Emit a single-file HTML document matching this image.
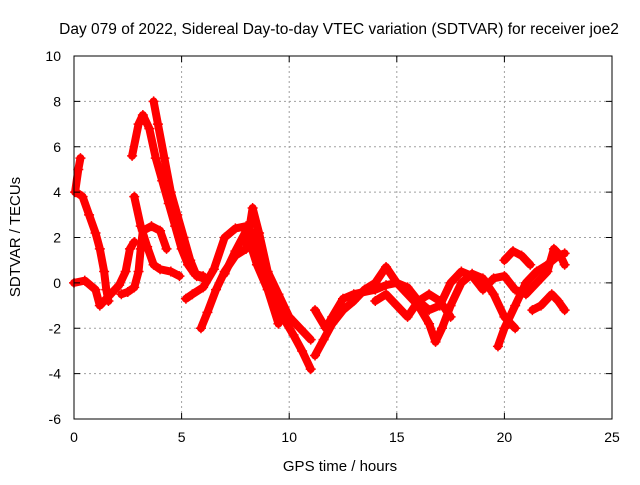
<!DOCTYPE html>
<html><head><meta charset="utf-8"><style>
body{margin:0;background:#fff}
svg text{font-family:"Liberation Sans",sans-serif;font-size:14px;fill:#000}
</style></head><body>
<svg id="c" width="640" height="480">
<rect width="640" height="480" fill="#fff"/>
<g id="grid"></g><g id="marks"></g><g id="axes"></g>
<text x="339" y="34" text-anchor="middle" style="font-size:15.5px">Day 079 of 2022, Sidereal Day-to-day VTEC variation (SDTVAR) for receiver joe2</text>
<text x="340" y="471" text-anchor="middle" style="font-size:15px">GPS time / hours</text>
<text transform="translate(20,237) rotate(-90)" text-anchor="middle" style="font-size:15px">SDTVAR / TECUs</text>
</svg>
<script>
const xTicks=[0,5,10,15,20,25];
const yTicks=[-6,-4,-2,0,2,4,6,8,10];
const track1=[[0.05,4],[0.2,5],[0.3,5.5]];
const track2=[[0.1,4],[0.4,3.8],[0.7,3],[1,2.2],[1.2,1.5],[1.4,0.5],[1.5,-0.3],[1.6,-0.8]];
const track3=[[0,0],[0.5,0.1],[1.0,-0.3],[1.2,-1.0],[1.6,-0.6],[2.1,-0.1],[2.4,0.5],[2.6,1.5],[2.8,1.8]];
const track4=[[2.2,-0.5],[2.5,-0.4],[2.8,-0.2],[3.0,0.5],[3.1,1.5],[3.2,2.3],[3.6,2.5],[4,2.3],[4.3,1.5]];
const track5=[[2.7,5.6],[3.0,7.0],[3.2,7.4],[3.5,6.8],[3.8,5.5],[4.1,4.5],[4.4,3.5],[4.7,2.5],[5,1.5],[5.3,0.8],[5.6,0.4],[6,0.3]];
const track6=[[3.7,8],[3.9,7],[4.2,5.5],[4.5,4.0],[4.8,3.0],[5.1,2],[5.4,1],[5.7,0.3],[6,0.2]];
const track7=[[2.8,3.8],[3.1,2.5],[3.4,1.6],[3.7,0.8],[4.0,0.6],[4.5,0.5],[4.9,0.3]];
const track8=[[5.2,-0.7],[5.5,-0.5],[6,-0.2],[6.5,0.6],[7,2],[7.5,2.4],[8,2.5],[8.3,2.2],[8.8,1],[9.2,-0.3],[9.7,-1.5],[10.2,-2.3],[10.6,-3],[11,-3.8]];
const track9=[[5.9,-2],[6.2,-1.3],[6.6,-0.3],[7,0.5],[7.5,1.2],[8,1.5],[8.3,3.3],[8.6,2.2],[9,0.5],[9.5,-0.5],[10,-1.5],[10.5,-2],[11,-2.5]];
const track10=[[7.0,0.4],[7.5,1.4],[8,2.3],[8.5,0.8],[9,-0.3],[9.5,-1.8]];
const track11=[[11.2,-3.2],[11.6,-2.5],[12,-1.8],[12.5,-1.2],[13,-0.8],[13.5,-0.3],[14,0],[14.5,0.7],[15,0],[15.5,-0.5],[16,-1],[16.5,-1.8],[16.8,-2.6],[17.1,-2.0],[17.5,-1.0],[18,0],[18.5,0.4],[19,0.2],[19.5,-0.5],[20,-1.5],[20.5,-2.0]];
const track12=[[11.2,-1.2],[11.7,-2],[12,-1.5],[12.5,-0.7],[13,-0.5],[14,-0.3],[14.5,-0.1],[15,0],[15.5,-0.2],[16,-0.8],[16.5,-1.2],[17,-1.0],[17.5,0],[18,0.5],[18.5,0.3],[19,-0.3],[19.5,0.2],[20,0.3],[20.5,-0.3],[21,-0.5],[21.5,0],[22,0.5],[22.3,1.5],[22.6,1.2],[22.8,0.8]];
const track13=[[19.7,-2.8],[20,-2],[20.5,-1],[21,0],[21.5,0.5],[22,0.8],[22.5,1.2],[22.8,1.3]];
const track14=[[20,1.0],[20.4,1.4],[20.8,1.2],[21.2,0.8]];
const track15=[[21.3,-1.2],[21.7,-1],[22.2,-0.5],[22.5,-0.8],[22.8,-1.2]];
const track16=[[14,-0.8],[14.5,-0.5],[15,-1],[15.5,-1.5],[16,-0.8],[16.5,-0.5],[17,-0.8],[17.5,-1.5]];
const tracks=[track1,track2,track3,track4,track5,track6,track7,track8,track9,track10,track11,track12,track13,track14,track15,track16];
const X0=74,X1=612,Y0=419,Y1=56;
const sx=v=>X0+(v-0)/(25-0)*(X1-X0);
const sy=v=>Y0-(v+6)/(16)*(Y0-Y1);
const NS="http://www.w3.org/2000/svg";
function mk(t,a,p){const e=document.createElementNS(NS,t);for(const k in a)e.setAttribute(k,a[k]);p.appendChild(e);return e;}
const grid=document.getElementById('grid'),axes=document.getElementById('axes'),marks=document.getElementById('marks');
xTicks.forEach(t=>{const x=sx(t);
 if(t>0&&t<25){const g=mk('line',{x1:x,x2:x,y1:Y1,y2:Y0,stroke:'#a0a0a0','stroke-dasharray':'2,3'},grid);
 
 }
 mk('line',{x1:x,x2:x,y1:Y0,y2:Y0-6,stroke:'#000'},axes);
 mk('line',{x1:x,x2:x,y1:Y1,y2:Y1+6,stroke:'#000'},axes);
 const l=mk('text',{x:x,y:Y0+23,'text-anchor':'middle'},axes);l.textContent=t;
 
 });
yTicks.forEach(t=>{const y=sy(t);
 if(t>-6&&t<10){const g=mk('line',{x1:X0,x2:X1,y1:y,y2:y,stroke:'#a0a0a0','stroke-dasharray':'2,3'},grid);
 
 }
 mk('line',{x1:X0,x2:X0+6,y1:y,y2:y,stroke:'#000'},axes);
 mk('line',{x1:X1,x2:X1-6,y1:y,y2:y,stroke:'#000'},axes);
 const l=mk('text',{x:X0-13,y:y+5,'text-anchor':'end'},axes);l.textContent=t;
 
 });
const b=mk('rect',{x:X0,y:Y1,width:X1-X0,height:Y0-Y1,fill:'none',stroke:'#000'},axes);


tracks.forEach((tr,i)=>{
 const pl=mk('polyline',{points:tr.map(p=>sx(p[0])+','+sy(p[1])).join(' '),fill:'none',stroke:'#ff0000','stroke-width':8,'stroke-linejoin':'round','stroke-linecap':'round'},marks);
 
 
 tr.forEach(p=>{const x=sx(p[0]),y=sy(p[1]);
  const m=mk('path',{d:`M${x-5},${y}H${x+5}M${x},${y-5}V${y+5}`,stroke:'#ff0000','stroke-width':1.5},marks);
  
  });
});
</script>
</body></html>
